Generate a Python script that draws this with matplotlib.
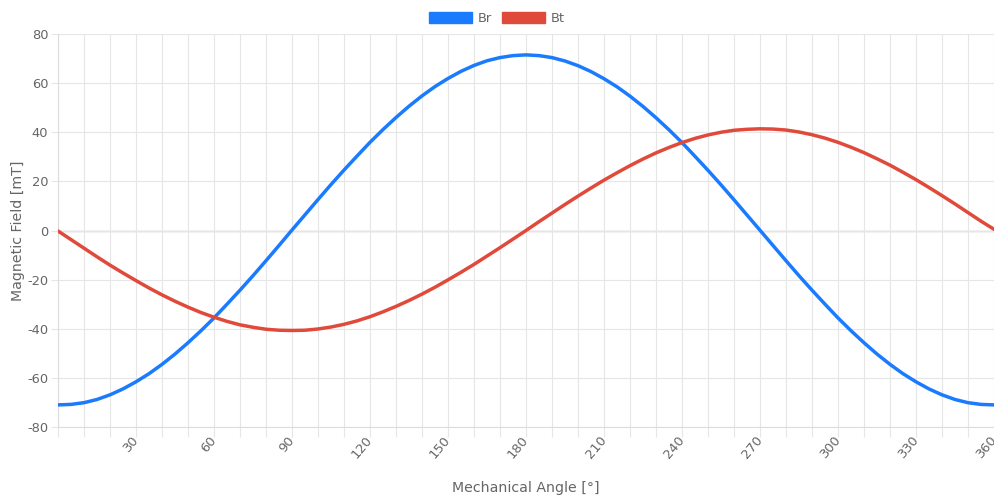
import matplotlib
matplotlib.use("Agg")
import matplotlib.pyplot as plt
from matplotlib.patches import Rectangle

plt.rcParams['font.family'] = ['DejaVu Sans']

# Mechanical angle in degrees (5 degree steps)
angle = list(range(0, 361, 5))

# Radial field component [mT]
br = [-71.0, -70.8, -70.1, -68.8, -66.9, -64.5, -61.6, -58.3, -54.5, -50.3,
      -45.7, -40.8, -35.6, -30.0, -24.3, -18.4, -12.3, -6.1, 0.2,
      6.4, 12.6, 18.7, 24.6, 30.3, 35.9, 41.1, 46.0, 50.6, 54.8,
      58.6, 61.9, 64.8, 67.2, 69.1, 70.4, 71.2, 71.5,
      71.2, 70.4, 69.0, 67.1, 64.7, 61.8, 58.5, 54.7, 50.5,
      45.9, 41.0, 35.8, 30.2, 24.5, 18.6, 12.5, 6.3, 0.1,
      -6.1, -12.3, -18.4, -24.3, -30.0, -35.6, -40.8, -45.7, -50.3,
      -54.5, -58.3, -61.6, -64.5, -66.9, -68.8, -70.1, -70.8, -71.0]

# Tangential field component [mT]
bt = [-0.2, -3.7, -7.2, -10.7, -14.1, -17.3, -20.4, -23.4, -26.2, -28.8,
      -31.2, -33.4, -35.3, -37.0, -38.4, -39.4, -40.2, -40.6, -40.7,
      -40.6, -40.1, -39.3, -38.2, -36.8, -35.1, -33.1, -30.9, -28.5, -25.9,
      -23.1, -20.1, -17.0, -13.8, -10.4, -7.0, -3.5, 0.0,
      3.6, 7.1, 10.6, 14.0, 17.3, 20.5, 23.5, 26.4, 29.1,
      31.6, 33.8, 35.8, 37.5, 38.9, 40.0, 40.8, 41.2, 41.4,
      41.3, 40.9, 40.1, 39.0, 37.6, 35.9, 33.9, 31.7, 29.2,
      26.6, 23.7, 20.7, 17.5, 14.2, 10.8, 7.3, 3.8, 0.5]

series_names = ["Br", "Bt"]
series_colors = ["#1a7bff", "#e04a3a"]

x_ticks = list(range(0, 361, 10))
x_labels = [str(v) if (v % 30 == 0 and v > 0) else "" for v in x_ticks]
y_ticks = list(range(-80, 81, 20))

text_col = "#666666"
fs_tick = 9.4
fs_label = 10.2

fig = plt.figure(figsize=(9.94, 4.99), dpi=100)
ax = fig.add_axes([58 / 994, 1 - 427 / 499, 1 - 58 / 994, (427 - 34) / 499])

for vals, name, col in zip([br, bt], series_names, series_colors):
    ax.plot(angle, vals, color=col, lw=2.5, label=name, solid_capstyle='round',
            zorder=3)

ax.set_xlim(0, 360)
ax.set_ylim(-80, 80)

grid_col = "#e6e6e6"
ax.set_xticks(x_ticks)
ax.set_xticklabels(x_labels, rotation=50, ha='right', va='center',
                   rotation_mode='anchor')
ax.set_yticks(y_ticks)
ax.set_yticklabels([str(v) for v in y_ticks])
ax.tick_params(axis='x', length=7, width=0.8, color=grid_col, pad=1,
               labelsize=fs_tick, labelcolor=text_col)
ax.tick_params(axis='y', length=5, width=0.8, color=grid_col, pad=2,
               labelsize=fs_tick, labelcolor=text_col)
ax.grid(True, color=grid_col, lw=0.8, zorder=0)
ax.axhline(0, color="#bdbdbd", lw=1.0, zorder=1)

for side in ["top", "right"]:
    ax.spines[side].set_visible(False)
for side in ["left", "bottom"]:
    ax.spines[side].set_color("#dcdcdc")
    ax.spines[side].set_linewidth(0.8)

ax.set_xlabel("Mechanical Angle [°]", fontsize=fs_label, color=text_col)
ax.set_ylabel("Magnetic Field [mT]", fontsize=fs_label, color=text_col)
ax.xaxis.set_label_coords(0.5, (427 - 488) / 393)
ax.xaxis.label.set_va('center')
ax.yaxis.set_label_coords((18 - 58) / 936, 0.5)
ax.yaxis.label.set_va('center')

handles = [Rectangle((0, 0), 1, 1, facecolor=c, edgecolor=c) for c in series_colors]
fig.legend(handles, series_names, loc='upper center', bbox_to_anchor=(0.5, 1.0),
           ncol=2, frameon=False, handlelength=3.3, handleheight=0.95,
           handletextpad=0.4, columnspacing=0.8, fontsize=fs_tick,
           labelcolor=text_col, borderaxespad=0.5)

fig.savefig("out.png", dpi=100)
